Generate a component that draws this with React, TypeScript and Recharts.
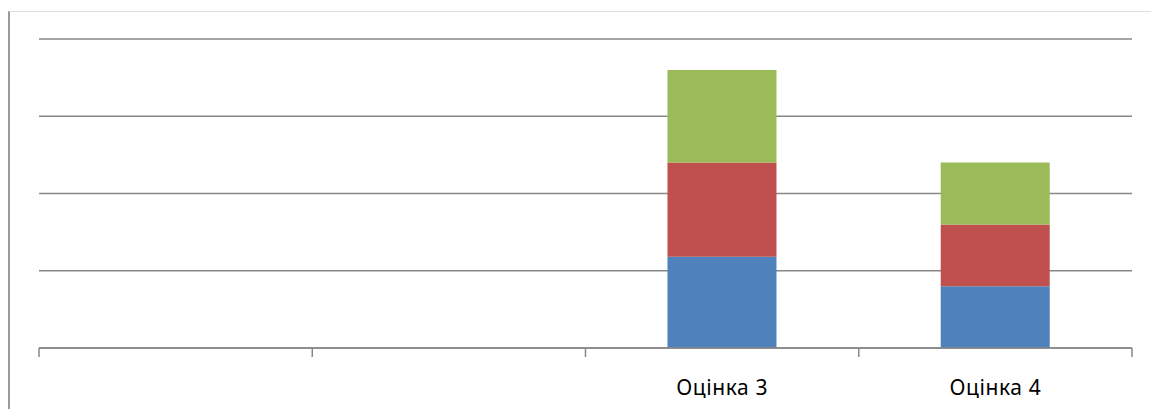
import React from "react";
import { Bar, BarChart, CartesianGrid, XAxis, YAxis } from "recharts";

const categories = ["", "", "Оцінка 3", "Оцінка 4"];
const series1 = [null, null, 5.9, 4];
const series2 = [null, null, 6.1, 4];
const series3 = [null, null, 6, 4];
const yTicks = [0, 5, 10, 15, 20];

const COLORS = ["#4F81BD", "#C0504D", "#9BBB59"];

const WIDTH = 1151;
const HEIGHT = 409;
const MARGIN = { top: 39, right: 19, bottom: 21, left: 39 };
const AXIS_H = 40;
const AXIS_Y = HEIGHT - MARGIN.bottom - AXIS_H;
const BAND = (WIDTH - MARGIN.left - MARGIN.right) / categories.length;
const GRID = "#878787";

const data = categories.map((name, i) => ({
  name,
  s1: series1[i],
  s2: series2[i],
  s3: series3[i],
}));

// labels sit in the middle of a category, tick marks on its edges
const CategoryTick = (props: any) => {
  const { x, payload, index } = props;
  const left = x - BAND / 2;
  return (
    <g>
      <line x1={left} y1={AXIS_Y} x2={left} y2={AXIS_Y + 9} stroke={GRID} strokeWidth={1.5} />
      {index === categories.length - 1 && (
        <line x1={left + BAND} y1={AXIS_Y} x2={left + BAND} y2={AXIS_Y + 9} stroke={GRID} strokeWidth={1.5} />
      )}
      <text
        x={x}
        y={AXIS_Y + 47}
        textAnchor="middle"
        fill="#000"
        style={{ fontFamily: "'Noto Sans', sans-serif", fontSize: 21, letterSpacing: 0.6 }}
      >
        {payload.value}
      </text>
    </g>
  );
};

export default function App() {
  return (
    <div style={{ position: "absolute", left: 0, top: 0, width: WIDTH, height: HEIGHT, background: "#fff" }}>
      <div
        style={{
          position: "absolute",
          left: 8,
          top: 11,
          right: 0,
          bottom: 0,
          borderLeft: "2px solid #9a9a9a",
          borderTop: "1px solid #dedede",
        }}
      />
      <BarChart
        width={WIDTH}
        height={HEIGHT}
        data={data}
        margin={MARGIN}
        barCategoryGap="30%"
        style={{ position: "absolute", left: 0, top: 0 }}
      >
        <CartesianGrid vertical={false} stroke={GRID} strokeWidth={1.5} />
        <XAxis
          dataKey="name"
          height={AXIS_H}
          tickLine={false}
          axisLine={{ stroke: GRID, strokeWidth: 1.5 }}
          tick={<CategoryTick />}
          interval={0}
        />
        <YAxis hide domain={[0, 20]} ticks={yTicks} />
        <Bar dataKey="s1" name="Ряд1" stackId="a" fill={COLORS[0]} isAnimationActive={false} />
        <Bar dataKey="s2" name="Ряд2" stackId="a" fill={COLORS[1]} isAnimationActive={false} />
        <Bar dataKey="s3" name="Ряд3" stackId="a" fill={COLORS[2]} isAnimationActive={false} />
      </BarChart>
    </div>
  );
}
